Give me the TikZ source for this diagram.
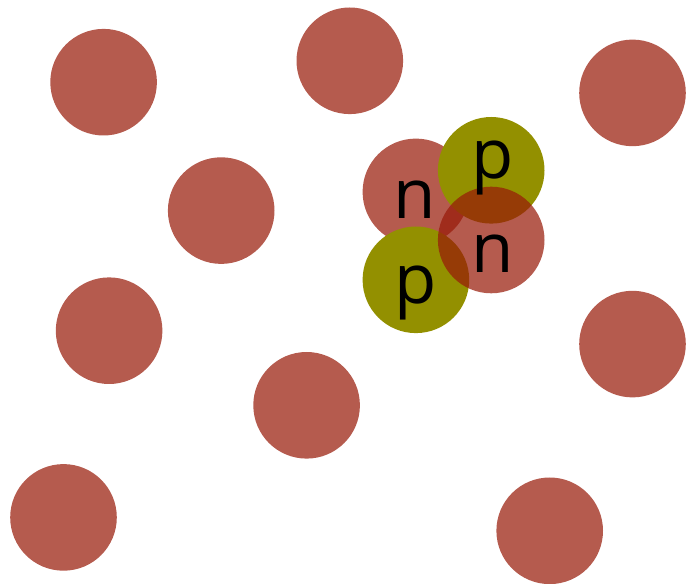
\documentclass[tikz,border=0pt]{standalone}
\usepackage{fontspec}
\setsansfont{Open Sans}
\definecolor{nred}{RGB}{152,26,9}
\definecolor{polive}{RGB}{147,144,0}
\begin{document}
\begin{tikzpicture}[x=1pt,y=1pt,
  ball/.style={circle, inner sep=0pt, minimum size=106.6pt},
  neutron/.style={ball, fill=nred, fill opacity=0.716},
  proton/.style={ball, fill=polive},
  lab/.style={anchor=base, inner sep=0pt, font=\sffamily\fontsize{69}{69}\selectfont, text=black}]
\useasboundingbox (0,0) rectangle (686,584);
% background nucleons
\node[neutron] (b1) at (103.6,501.8) {};
\node[neutron] (b2) at (349.8,523.2) {};
\node[neutron] (b3) at (632.5,491.1) {};
\node[neutron] (b4) at (221.2,373.4) {};
\node[neutron] (b5) at (109.1,253.3) {};
\node[neutron] (b6) at (306.6,178.7) {};
\node[neutron] (b7) at (63.5,66.6) {};
\node[neutron] (b8) at (632.5,239.9) {};
\node[neutron] (b9) at (549.7,53.2) {};
% cluster
\node[neutron] (n1) at (415.9,392.1) {};
\node[proton] (p1) at (491.2,413.7) {};
\node[proton] (p2) at (415.9,304.2) {};
\node[neutron] (n2) at (491.2,344.0) {};
% labels
\node[lab] (tn1) at (414.8,365.0) {n};
\node[lab] (tp1) at (493.0,405.7) {p};
\node[lab] (tp2) at (416.0,280.0) {p};
\node[lab] (tn2) at (492.8,311.7) {n};
\end{tikzpicture}
\end{document}
